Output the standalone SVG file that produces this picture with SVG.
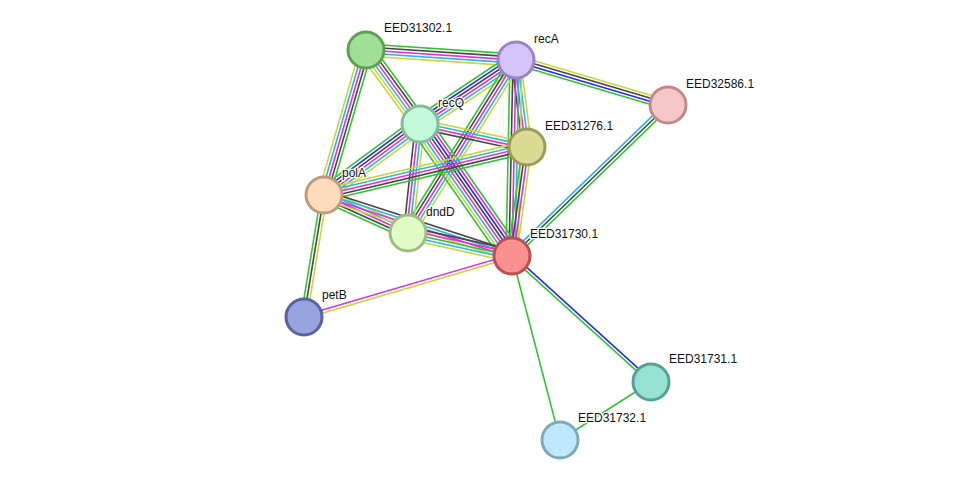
<svg xmlns="http://www.w3.org/2000/svg" width="976" height="485" viewBox="0 0 976 485">
<style>
line{stroke-width:1.6;fill:none}
.g{stroke:#33c433}.b{stroke:#2a2af0}.k{stroke:#474747}.m{stroke:#e030e0}.c{stroke:#2fb4e0}.y{stroke:#c6d83c}
.node circle{stroke-width:3}
text{font-family:"Liberation Sans",Arial,sans-serif;font-size:12px;fill:#111;stroke:#fff;stroke-width:2.5px;paint-order:stroke;stroke-linejoin:round}
</style>
<rect width="976" height="485" fill="#fff"/>
<g id="edges">
<g transform="translate(366,50) rotate(3.81)"><line x2="150.3" y1="-6" y2="-6" class="g"/><line x2="150.3" y1="-3" y2="-3" class="k"/><line x2="150.3" class="m"/><line x2="150.3" y1="3" y2="3" class="c"/><line x2="150.3" y1="6" y2="6" class="y"/></g>
<g transform="translate(366,50) rotate(53.88)"><line x2="91.6" y1="-7.5" y2="-7.5" class="g"/><line x2="91.6" y1="-4.5" y2="-4.5" class="k"/><line x2="91.6" y1="-1.5" y2="-1.5" class="m"/><line x2="91.6" y1="1.5" y2="1.5" class="c"/><line x2="91.6" y1="4.5" y2="4.5" class="y"/><line x2="91.6" y1="7.5" y2="7.5" class="y"/></g>
<g transform="translate(366,50) rotate(106.15)"><line x2="151" y1="-6" y2="-6" class="g"/><line x2="151" y1="-3" y2="-3" class="k"/><line x2="151" class="m"/><line x2="151" y1="3" y2="3" class="c"/><line x2="151" y1="6" y2="6" class="y"/></g>
<g transform="translate(516,60) rotate(16.49)"><line x2="158.5" y1="-4.5" y2="-4.5" class="y"/><line x2="158.5" y1="-1.5" y2="-1.5" class="k"/><line x2="158.5" y1="1.5" y2="1.5" class="b"/><line x2="158.5" y1="4.5" y2="4.5" class="g"/></g>
<g transform="translate(516,60) rotate(146.31)"><line x2="115.4" y1="-7.5" y2="-7.5" class="y"/><line x2="115.4" y1="-4.5" y2="-4.5" class="c"/><line x2="115.4" y1="-1.5" y2="-1.5" class="m"/><line x2="115.4" y1="1.5" y2="1.5" class="k"/><line x2="115.4" y1="4.5" y2="4.5" class="b"/><line x2="115.4" y1="7.5" y2="7.5" class="g"/></g>
<g transform="translate(516,60) rotate(82.79)"><line x2="87.7" y1="-4.5" y2="-4.5" class="y"/><line x2="87.7" y1="-1.5" y2="-1.5" class="c"/><line x2="87.7" y1="1.5" y2="1.5" class="m"/><line x2="87.7" y1="4.5" y2="4.5" class="k"/></g>
<g transform="translate(516,60) rotate(91.17)"><line x2="196" y1="-6" y2="-6" class="y"/><line x2="196" y1="-3" y2="-3" class="c"/><line x2="196" class="m"/><line x2="196" y1="3" y2="3" class="k"/><line x2="196" y1="6" y2="6" class="g"/></g>
<g transform="translate(516,60) rotate(121.97)"><line x2="203.9" y1="-6" y2="-6" class="y"/><line x2="203.9" y1="-3" y2="-3" class="c"/><line x2="203.9" class="m"/><line x2="203.9" y1="3" y2="3" class="k"/><line x2="203.9" y1="6" y2="6" class="g"/></g>
<g transform="translate(420,124) rotate(12.13)"><line x2="109.4" y1="-4.5" y2="-4.5" class="y"/><line x2="109.4" y1="-1.5" y2="-1.5" class="c"/><line x2="109.4" y1="1.5" y2="1.5" class="m"/><line x2="109.4" y1="4.5" y2="4.5" class="k"/></g>
<g transform="translate(420,124) rotate(96.28)"><line x2="109.7" y1="-4.5" y2="-4.5" class="y"/><line x2="109.7" y1="-1.5" y2="-1.5" class="c"/><line x2="109.7" y1="1.5" y2="1.5" class="m"/><line x2="109.7" y1="4.5" y2="4.5" class="k"/></g>
<g transform="translate(420,124) rotate(55.12)"><line x2="160.9" y1="-10.5" y2="-10.5" class="g"/><line x2="160.9" y1="-7.5" y2="-7.5" class="m"/><line x2="160.9" y1="-4.5" y2="-4.5" class="b"/><line x2="160.9" y1="-1.5" y2="-1.5" class="k"/><line x2="160.9" y1="1.5" y2="1.5" class="m"/><line x2="160.9" y1="4.5" y2="4.5" class="c"/><line x2="160.9" y1="7.5" y2="7.5" class="y"/><line x2="160.9" y1="10.5" y2="10.5" class="g"/></g>
<g transform="translate(420,124) rotate(143.52)"><line x2="119.4" y1="-7.5" y2="-7.5" class="y"/><line x2="119.4" y1="-4.5" y2="-4.5" class="c"/><line x2="119.4" y1="-1.5" y2="-1.5" class="m"/><line x2="119.4" y1="1.5" y2="1.5" class="k"/><line x2="119.4" y1="4.5" y2="4.5" class="b"/><line x2="119.4" y1="7.5" y2="7.5" class="g"/></g>
<g transform="translate(324,195) rotate(-13.3)"><line x2="208.6" y1="-6" y2="-6" class="y"/><line x2="208.6" y1="-3" y2="-3" class="c"/><line x2="208.6" class="m"/><line x2="208.6" y1="3" y2="3" class="k"/><line x2="208.6" y1="6" y2="6" class="g"/></g>
<g transform="translate(324,195) rotate(24.34)"><line x2="92.2" y1="-6" y2="-6" class="y"/><line x2="92.2" y1="-3" y2="-3" class="c"/><line x2="92.2" class="m"/><line x2="92.2" y1="3" y2="3" class="k"/><line x2="92.2" y1="6" y2="6" class="g"/></g>
<g transform="translate(324,195) rotate(17.98)"><line x2="197.6" y1="-4.5" y2="-4.5" class="k"/><line x2="197.6" y1="-1.5" y2="-1.5" class="c"/><line x2="197.6" y1="1.5" y2="1.5" class="m"/><line x2="197.6" y1="4.5" y2="4.5" class="y"/></g>
<g transform="translate(408,233) rotate(12.47)"><line x2="106.5" y1="-6" y2="-6" class="k"/><line x2="106.5" y1="-3" y2="-3" class="m"/><line x2="106.5" class="g"/><line x2="106.5" y1="3" y2="3" class="c"/><line x2="106.5" y1="6" y2="6" class="y"/></g>
<g transform="translate(527,147) rotate(97.84)"><line x2="110" y1="-4.5" y2="-4.5" class="y"/><line x2="110" y1="-1.5" y2="-1.5" class="m"/><line x2="110" y1="1.5" y2="1.5" class="k"/><line x2="110" y1="4.5" y2="4.5" class="g"/></g>
<g transform="translate(324,195) rotate(99.31)"><line x2="123.6" y1="-3" y2="-3" class="y"/><line x2="123.6" class="k"/><line x2="123.6" y1="3" y2="3" class="g"/></g>
<g transform="translate(512,256) rotate(163.65)"><line x2="216.8" y1="-1.5" y2="-1.5" class="y"/><line x2="216.8" y1="1.5" y2="1.5" class="m"/></g>
<g transform="translate(512,256) rotate(-44.07)"><line x2="217.1" y1="-3" y2="-3" class="c"/><line x2="217.1" class="k"/><line x2="217.1" y1="3" y2="3" class="g"/></g>
<g transform="translate(512,256) rotate(42.19)"><line x2="187.6" y1="-1.5" y2="-1.5" class="b"/><line x2="187.6" y1="1.5" y2="1.5" class="g"/></g>
<line x1="512" y1="256" x2="560" y2="440" class="g"/>
<line x1="651" y1="382" x2="560" y2="440" class="g"/>
</g>
<g id="n-EED31302" class="node"><circle cx="366" cy="50" r="18" fill="#a0e096" stroke="#60a055"/><text x="384" y="32">EED31302.1</text></g>
<g id="n-recA" class="node"><circle cx="516" cy="60" r="18" fill="#d4c4fa" stroke="#9a84c8"/><text x="534" y="43">recA</text></g>
<g id="n-EED32586" class="node"><circle cx="668" cy="105" r="18" fill="#f6c7c7" stroke="#c08a8a"/><text x="686" y="88">EED32586.1</text></g>
<g id="n-recQ" class="node"><circle cx="420" cy="124" r="18" fill="#c4fadc" stroke="#84bc9c"/><text x="438" y="107">recQ</text></g>
<g id="n-EED31276" class="node"><circle cx="527" cy="147" r="18" fill="#dcdb96" stroke="#9c9b56"/><text x="545" y="130">EED31276.1</text></g>
<g id="n-polA" class="node"><circle cx="324" cy="195" r="18" fill="#fddcbd" stroke="#bd9c7d"/><text x="342" y="177">polA</text></g>
<g id="n-dndD" class="node"><circle cx="408" cy="233" r="18" fill="#e0fcc4" stroke="#a0bc84"/><text x="426" y="216">dndD</text></g>
<g id="n-EED31730" class="node"><circle cx="512" cy="256" r="18" fill="#fb9090" stroke="#bb5050"/><text x="530" y="238">EED31730.1</text></g>
<g id="n-petB" class="node"><circle cx="304" cy="317" r="18" fill="#98a4e0" stroke="#5864a0"/><text x="322" y="299">petB</text></g>
<g id="n-EED31731" class="node"><circle cx="651" cy="382" r="18" fill="#98e0d4" stroke="#58a094"/><text x="669" y="363">EED31731.1</text></g>
<g id="n-EED31732" class="node"><circle cx="560" cy="440" r="18" fill="#c0e8fc" stroke="#80a8bc"/><text x="578" y="422">EED31732.1</text></g>
</svg>
